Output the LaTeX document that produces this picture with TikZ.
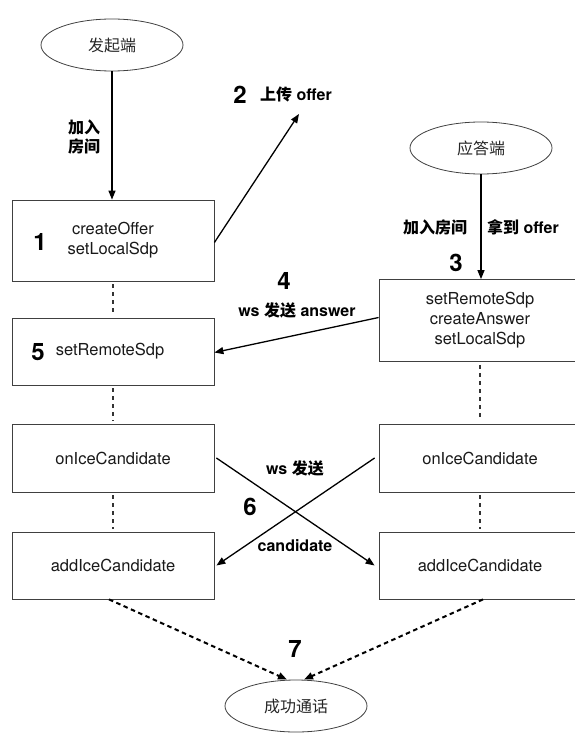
\documentclass[tikz,border=0pt]{standalone}
\usepackage{fontspec}
\setmainfont{TeX Gyre Heros}
\newfontfamily\cjk{Noto Sans CJK SC}
\usetikzlibrary{shapes.geometric,arrows.meta}
\begin{document}
\begin{tikzpicture}[x=1pt,y=-1pt,
  box/.style={draw=black!75,line width=0.8pt,rectangle,minimum width=202pt,inner sep=0pt,
    align=center,font=\fontsize{16.5}{20}\selectfont,text=black!90},
  ell/.style={draw=black!75,line width=0.8pt,ellipse,minimum width=142pt,minimum height=52pt,
    inner sep=0pt,font=\cjk\fontsize{16}{18}\selectfont,text=black!85},
  arr/.style={-{Triangle[length=9pt,width=7pt]},line width=1.3pt},
  dotl/.style={dash pattern=on 4pt off 4pt,line width=1.8pt,black!80,shorten <=3pt,shorten >=3pt},
  dsh/.style={dash pattern=on 4.5pt off 3.5pt,black},
  num/.style={font=\bfseries\fontsize{24}{26}\selectfont},
  lbl/.style={font=\bfseries\fontsize{16}{20}\selectfont,align=center,inner sep=0pt},
]
\useasboundingbox (0,0) rectangle (575,733);

% ellipses
\node[ell] (e1) at (112,45) {发起端};
\node[ell] (e2) at (481,148) {应答端};
\node[ell] (e3) at (296,706) {成功通话};

% left column boxes
\node[box,minimum height=81pt] (b1) at (113,240.5) {createOffer\\setLocalSdp};
\node[box,minimum height=67pt] (b5) at (113,351.5) {\hspace*{-6pt}setRemoteSdp};
\node[box,minimum height=68pt] (lon) at (113,458) {onIceCandidate};
\node[box,minimum height=67pt] (ladd) at (113,565.5) {addIceCandidate};

% right column boxes
\node[box,minimum height=82pt] (b3) at (480,320.5) {setRemoteSdp\\createAnswer\\setLocalSdp};
\node[box,minimum height=68pt] (ron) at (480,458) {onIceCandidate};
\node[box,minimum height=67pt] (radd) at (480,565.5) {addIceCandidate};

% step numbers
\node[num] (n1) at (40,242) {1};
\node[num] (n5) at (38,352) {5};
\node[num] (n2) at (240,95) {2};
\node[num] (n3) at (456,263) {3};
\node[num] (n4) at (284,281) {4};
\node[num] (n6) at (250,507) {6};
\node[num] (n7) at (295,649) {7};

% labels
\node[lbl] (l1) at (84,137) {\cjk 加入\\\cjk 房间};
\node[lbl] (l2) at (296,94) {{\cjk 上传} offer};
\node[lbl] (l3a) at (435,227) {\cjk 加入房间};
\node[lbl] (l3b) at (523,227) {{\cjk 拿到} offer};
\node[lbl] (l4) at (297,310) {ws {\cjk 发送} answer};
\node[lbl] (l6a) at (295,468) {ws {\cjk 发送}};
\node[lbl] (l6b) at (295,546) {candidate};

% arrows
\coordinate (c2) at (299,114);
\draw[arr] (e1.south) -- (e1.south |- b1.north);
\draw[arr] ([yshift=-2pt]b1.east) -- (c2);
\draw[arr] (e2.south) -- (e2.south |- b3.north);
\draw[arr] ([yshift=3pt]b3.west) -- ([yshift=-1pt]b5.east);
\draw[arr] ([xshift=2pt]lon.east) -- ([xshift=-4pt]radd.west);
\draw[arr] ([xshift=-4pt]ron.west) -- ([xshift=2pt]ladd.east);

% dotted links
\draw[dotl] (b1.south) -- (b5.north);
\draw[dotl] (b5.south) -- (lon.north);
\draw[dotl] (lon.south) -- (ladd.north);
\draw[dotl] (b3.south) -- (ron.north);
\draw[dotl] (ron.south) -- (radd.north);

% dashed arrows to the result
\draw[arr,dsh,line width=2pt] ([xshift=-4pt]ladd.south) -- ([xshift=-9pt]e3.north);
\draw[arr,dsh,line width=2pt] ([xshift=3pt]radd.south) -- ([xshift=8pt]e3.north);
\end{tikzpicture}
\end{document}
